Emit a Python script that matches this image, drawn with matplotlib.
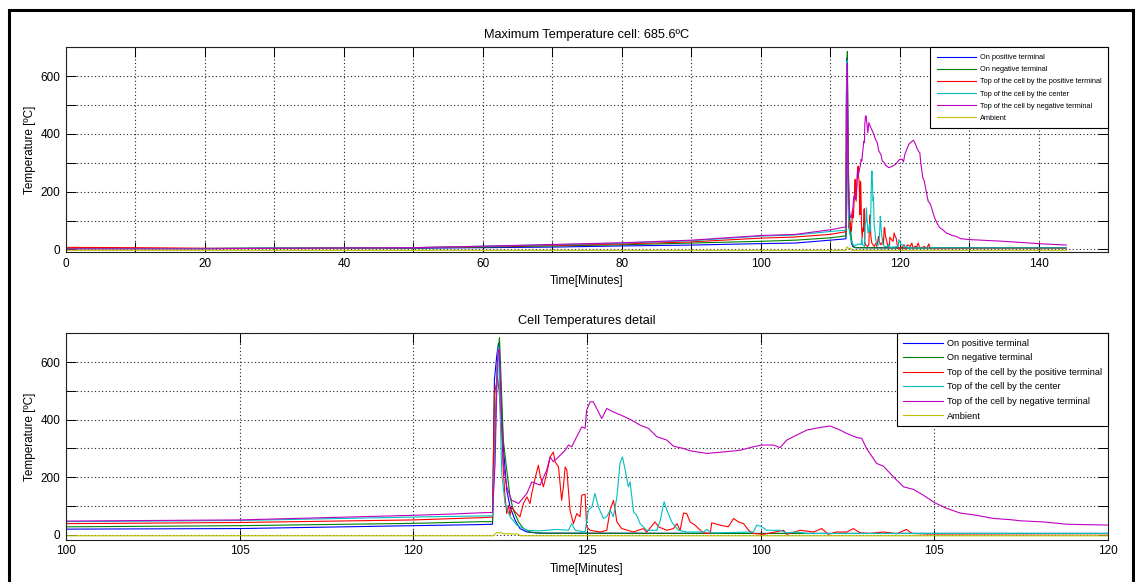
import matplotlib
matplotlib.use('Agg')
import matplotlib.pyplot as plt
from matplotlib.patches import Rectangle
from matplotlib.ticker import FixedLocator, FixedFormatter

plt.rcParams['font.family'] = ['Liberation Sans', 'DejaVu Sans']

# ---------------- data (minutes, degC) ----------------
series_labels = ["On positive terminal", "On negative terminal",
                 "Top of the cell by the positive terminal",
                 "Top of the cell by the center",
                 "Top of the cell by negative terminal", "Ambient"]
series_colors = ["#0000ff", "#008000", "#ff0000", "#00bfbf", "#bf00bf", "#bfbf00"]

base_t = [0, 10, 20, 30, 40, 50, 60, 70, 80, 90, 100, 105, 110, 111, 112, 112.28]

blue_base = [3, 3, 3, 4, 4, 4, 6, 8, 12, 15, 20, 22, 32, 34, 36, 37]
blue_event = [(112.334, 537), (112.40, 620), (112.45, 665), (112.50, 560), (112.59, 306),
              (112.69, 155), (112.785, 97), (112.93, 51), (113.07, 22), (113.27, 10),
              (113.6, 6), (120, 5), (130, 5), (144, 5)]

green_base = [3, 3, 3, 4, 4, 5, 8, 12, 16, 22, 28, 32, 40, 43, 46, 46]
green_event = [(112.36, 400), (112.42, 600), (112.48, 685.6), (112.545, 480), (112.59, 329),
               (112.69, 225), (112.785, 132), (112.88, 86), (113.03, 45), (113.17, 22),
               (113.36, 10), (113.7, 6), (120, 5), (130, 5), (144, 5)]

red_base = [7, 6, 4, 4, 5, 6, 10, 14, 19, 26, 39, 43, 52, 56, 60, 62]
red_event = [(112.334, 485), (112.42, 549), (112.47, 500), (112.545, 364), (112.59, 225),
             (112.64, 132), (112.69, 74), (112.74, 103), (112.785, 68), (112.83, 97),
             (112.93, 80), (113.07, 63), (113.17, 109), (113.27, 132), (113.36, 109),
             (113.41, 144), (113.505, 196), (113.60, 242), (113.65, 207), (113.745, 167),
             (113.84, 213), (113.94, 271), (114.03, 288), (114.08, 254), (114.18, 236),
             (114.27, 120), (114.32, 167), (114.37, 236), (114.42, 225), (114.51, 86),
             (114.61, 39), (114.705, 74), (114.80, 63), (114.85, 138), (114.945, 141),
             (114.99, 28), (115.09, 16), (115.38, 10), (115.57, 16), (115.665, 86),
             (115.76, 120), (115.81, 86), (115.86, 45), (116.00, 22), (116.34, 10),
             (116.62, 22), (116.72, 10), (116.96, 45), (117.06, 28), (117.30, 16),
             (117.49, 22), (117.59, 39), (117.68, 16), (117.78, 76), (117.87, 74),
             (117.97, 45), (118.11, 34), (118.21, 22), (118.35, 7), (118.55, 5),
             (118.59, 42), (118.83, 34), (119.07, 28), (119.22, 57), (119.36, 45),
             (119.51, 39), (119.65, 16), (119.79, 5), (120.08, 2), (120.66, 16),
             (120.75, 2), (121.14, 16), (121.52, 10), (121.76, 22), (121.95, 2),
             (122.19, 10), (122.48, 10), (122.67, 22), (122.86, 7), (123.15, 5),
             (123.53, 10), (123.92, 4), (124.20, 19), (124.35, 5), (124.78, 3),
             (130, 4), (144, 4)]

cyan_base = [3, 3, 3, 5, 5, 6, 11, 16, 22, 30, 46, 50, 62, 64, 66, 66]
cyan_event = [(112.35, 300), (112.42, 600), (112.45, 653), (112.50, 421), (112.545, 213),
              (112.64, 109), (112.785, 63), (112.98, 34), (113.27, 16), (113.65, 14),
              (114.13, 19), (114.465, 16), (114.56, 39), (114.66, 16), (114.945, 10),
              (115.04, 86), (115.14, 97), (115.23, 144), (115.33, 97), (115.47, 57),
              (115.57, 63), (115.665, 86), (115.76, 63), (115.86, 132), (115.95, 248),
              (116.02, 271), (116.10, 225), (116.19, 167), (116.24, 184), (116.34, 80),
              (116.43, 68), (116.53, 39), (116.72, 16), (117.01, 16), (117.11, 51),
              (117.22, 115), (117.30, 86), (117.44, 45), (117.63, 16), (117.87, 10),
              (118.35, 10), (118.45, 19), (118.59, 7), (119.79, 10), (119.89, 34),
              (120.03, 28), (120.18, 16), (120.56, 16), (120.75, 7), (121.04, 10),
              (121.33, 5), (130, 5), (144, 5)]

magenta_base = [2, 2, 2, 4, 5, 6, 11, 17, 23, 32, 48, 52, 68, 72, 77, 78]
magenta_event = [(112.353, 248), (112.42, 600), (112.45, 640), (112.48, 645), (112.52, 480),
                 (112.59, 248), (112.69, 167), (112.83, 120), (113.03, 109), (113.27, 144),
                 (113.41, 184), (113.65, 173), (113.84, 225), (113.94, 271), (114.03, 254),
                 (114.18, 271), (114.37, 294), (114.465, 312), (114.56, 306), (114.705, 341),
                 (114.85, 375), (114.945, 370), (114.99, 433), (115.09, 462), (115.18, 462),
                 (115.28, 439), (115.425, 404), (115.57, 439), (115.76, 427), (116.05, 412),
                 (116.29, 398), (116.53, 381), (116.77, 370), (117.01, 341), (117.30, 329),
                 (117.49, 308), (117.78, 300), (117.97, 292), (118.45, 283), (118.93, 288),
                 (119.41, 294), (119.79, 306), (120.03, 312), (120.37, 312), (120.56, 303),
                 (120.75, 329), (120.94, 341), (121.33, 364), (121.71, 373), (122.0, 378),
                 (122.29, 364), (122.48, 352), (122.77, 338), (122.91, 335), (123.05, 300),
                 (123.34, 248), (123.53, 239), (123.82, 202), (124.11, 167), (124.40, 158),
                 (124.68, 138), (125.02, 111), (125.36, 92), (125.74, 76), (126.22, 68),
                 (126.70, 57), (127.18, 53), (127.47, 49), (128.14, 45), (128.81, 37),
                 (130.06, 34), (135, 28), (140, 20), (144, 15)]

ambient_pts = [(0, -3), (112.3, -3), (112.4, 8), (112.5, 8), (112.6, 4), (113.0, 3),
               (113.1, -3), (144, -3)]

top_xticks = [0, 10, 20, 30, 40, 50, 60, 70, 80, 90, 100, 110, 120, 130, 140, 150]
top_xticklabels = ["0", "", "20", "", "40", "", "60", "", "80", "", "100", "", "120", "", "140", ""]
bot_xticks = [100, 105, 110, 115, 120, 125, 130]
bot_xticklabels = ["100", "105", "120", "125", "100", "105", "120"]
yticks = [0, 100, 200, 300, 400, 500, 600, 700]
yticklabels = ["0", "", "200", "", "400", "", "600", ""]


def build(base_v, event):
    t = list(base_t) + [p[0] for p in event]
    v = list(base_v) + [p[1] for p in event]
    return t, v


series = [build(blue_base, blue_event), build(green_base, green_event),
          build(red_base, red_event), build(cyan_base, cyan_event),
          build(magenta_base, magenta_event),
          ([p[0] for p in ambient_pts], [p[1] for p in ambient_pts])]

# ---------------- figure ----------------
W, H = 1135, 582
fig = plt.figure(figsize=(W / 100, H / 100), dpi=100)


def px_axes(left, top, right, bottom):
    return fig.add_axes([left / W, 1 - bottom / H, (right - left) / W, (bottom - top) / H])


ax1 = px_axes(66, 47.3, 1108, 252)
ax2 = px_axes(66, 333.3, 1108, 539.5)

for ax in (ax1, ax2):
    for (t, v), c, lab in zip(series, series_colors, series_labels):
        ax.plot(t, v, color=c, lw=0.8, label=lab)
    ax.set_axisbelow(True)
    ax.grid(True, color='#222222', linestyle=(0, (1, 2.2)), linewidth=0.8)
    ax.tick_params(direction='in', top=True, right=True, length=7.5, width=0.7,
                   labelsize=8.5, pad=4, colors='black')
    ax.yaxis.set_major_locator(FixedLocator(yticks))
    ax.yaxis.set_major_formatter(FixedFormatter(yticklabels))
    for s in ax.spines.values():
        s.set_linewidth(0.8)
        s.set_color('#202020')
    ax.set_ylabel("Temperature [ºC]", fontsize=8.5, labelpad=3)
    ax.set_xlabel("Time[Minutes]", fontsize=8.5, labelpad=4)

ax1.set_xlim(0, 150)
ax1.set_ylim(-9, 700)
ax1.xaxis.set_major_locator(FixedLocator(top_xticks))
ax1.xaxis.set_major_formatter(FixedFormatter(top_xticklabels))
ax1.set_title("Maximum Temperature cell: 685.6ºC", fontsize=9.2, pad=7)

ax2.set_xlim(100, 130)
ax2.set_ylim(-16, 700)
ax2.xaxis.set_major_locator(FixedLocator(bot_xticks))
ax2.xaxis.set_major_formatter(FixedFormatter(bot_xticklabels))
ax2.set_title("Cell Temperatures detail", fontsize=9.2, pad=7)

leg1 = ax1.legend(loc='upper right', fontsize=5.3, frameon=True, fancybox=False,
                  framealpha=1, edgecolor='black', borderaxespad=0.0,
                  handlelength=5.4, handletextpad=0.45, labelspacing=0.68,
                  borderpad=0.9)
leg1.get_frame().set_linewidth(0.8)
leg2 = ax2.legend(loc='upper right', fontsize=6.65, frameon=True, fancybox=False,
                  framealpha=1, edgecolor='black', borderaxespad=0.0,
                  handlelength=4.33, handletextpad=0.5, labelspacing=0.6,
                  borderpad=0.6)
leg2.get_frame().set_linewidth(0.8)

# outer frame
fig.add_artist(Rectangle((8.5 / W, -0.05), (1133 - 8.5) / W, 1.05 - 10 / H,
                         transform=fig.transFigure, fill=False, lw=2.2,
                         edgecolor='black', clip_on=False))

fig.savefig("out.png", dpi=100)
